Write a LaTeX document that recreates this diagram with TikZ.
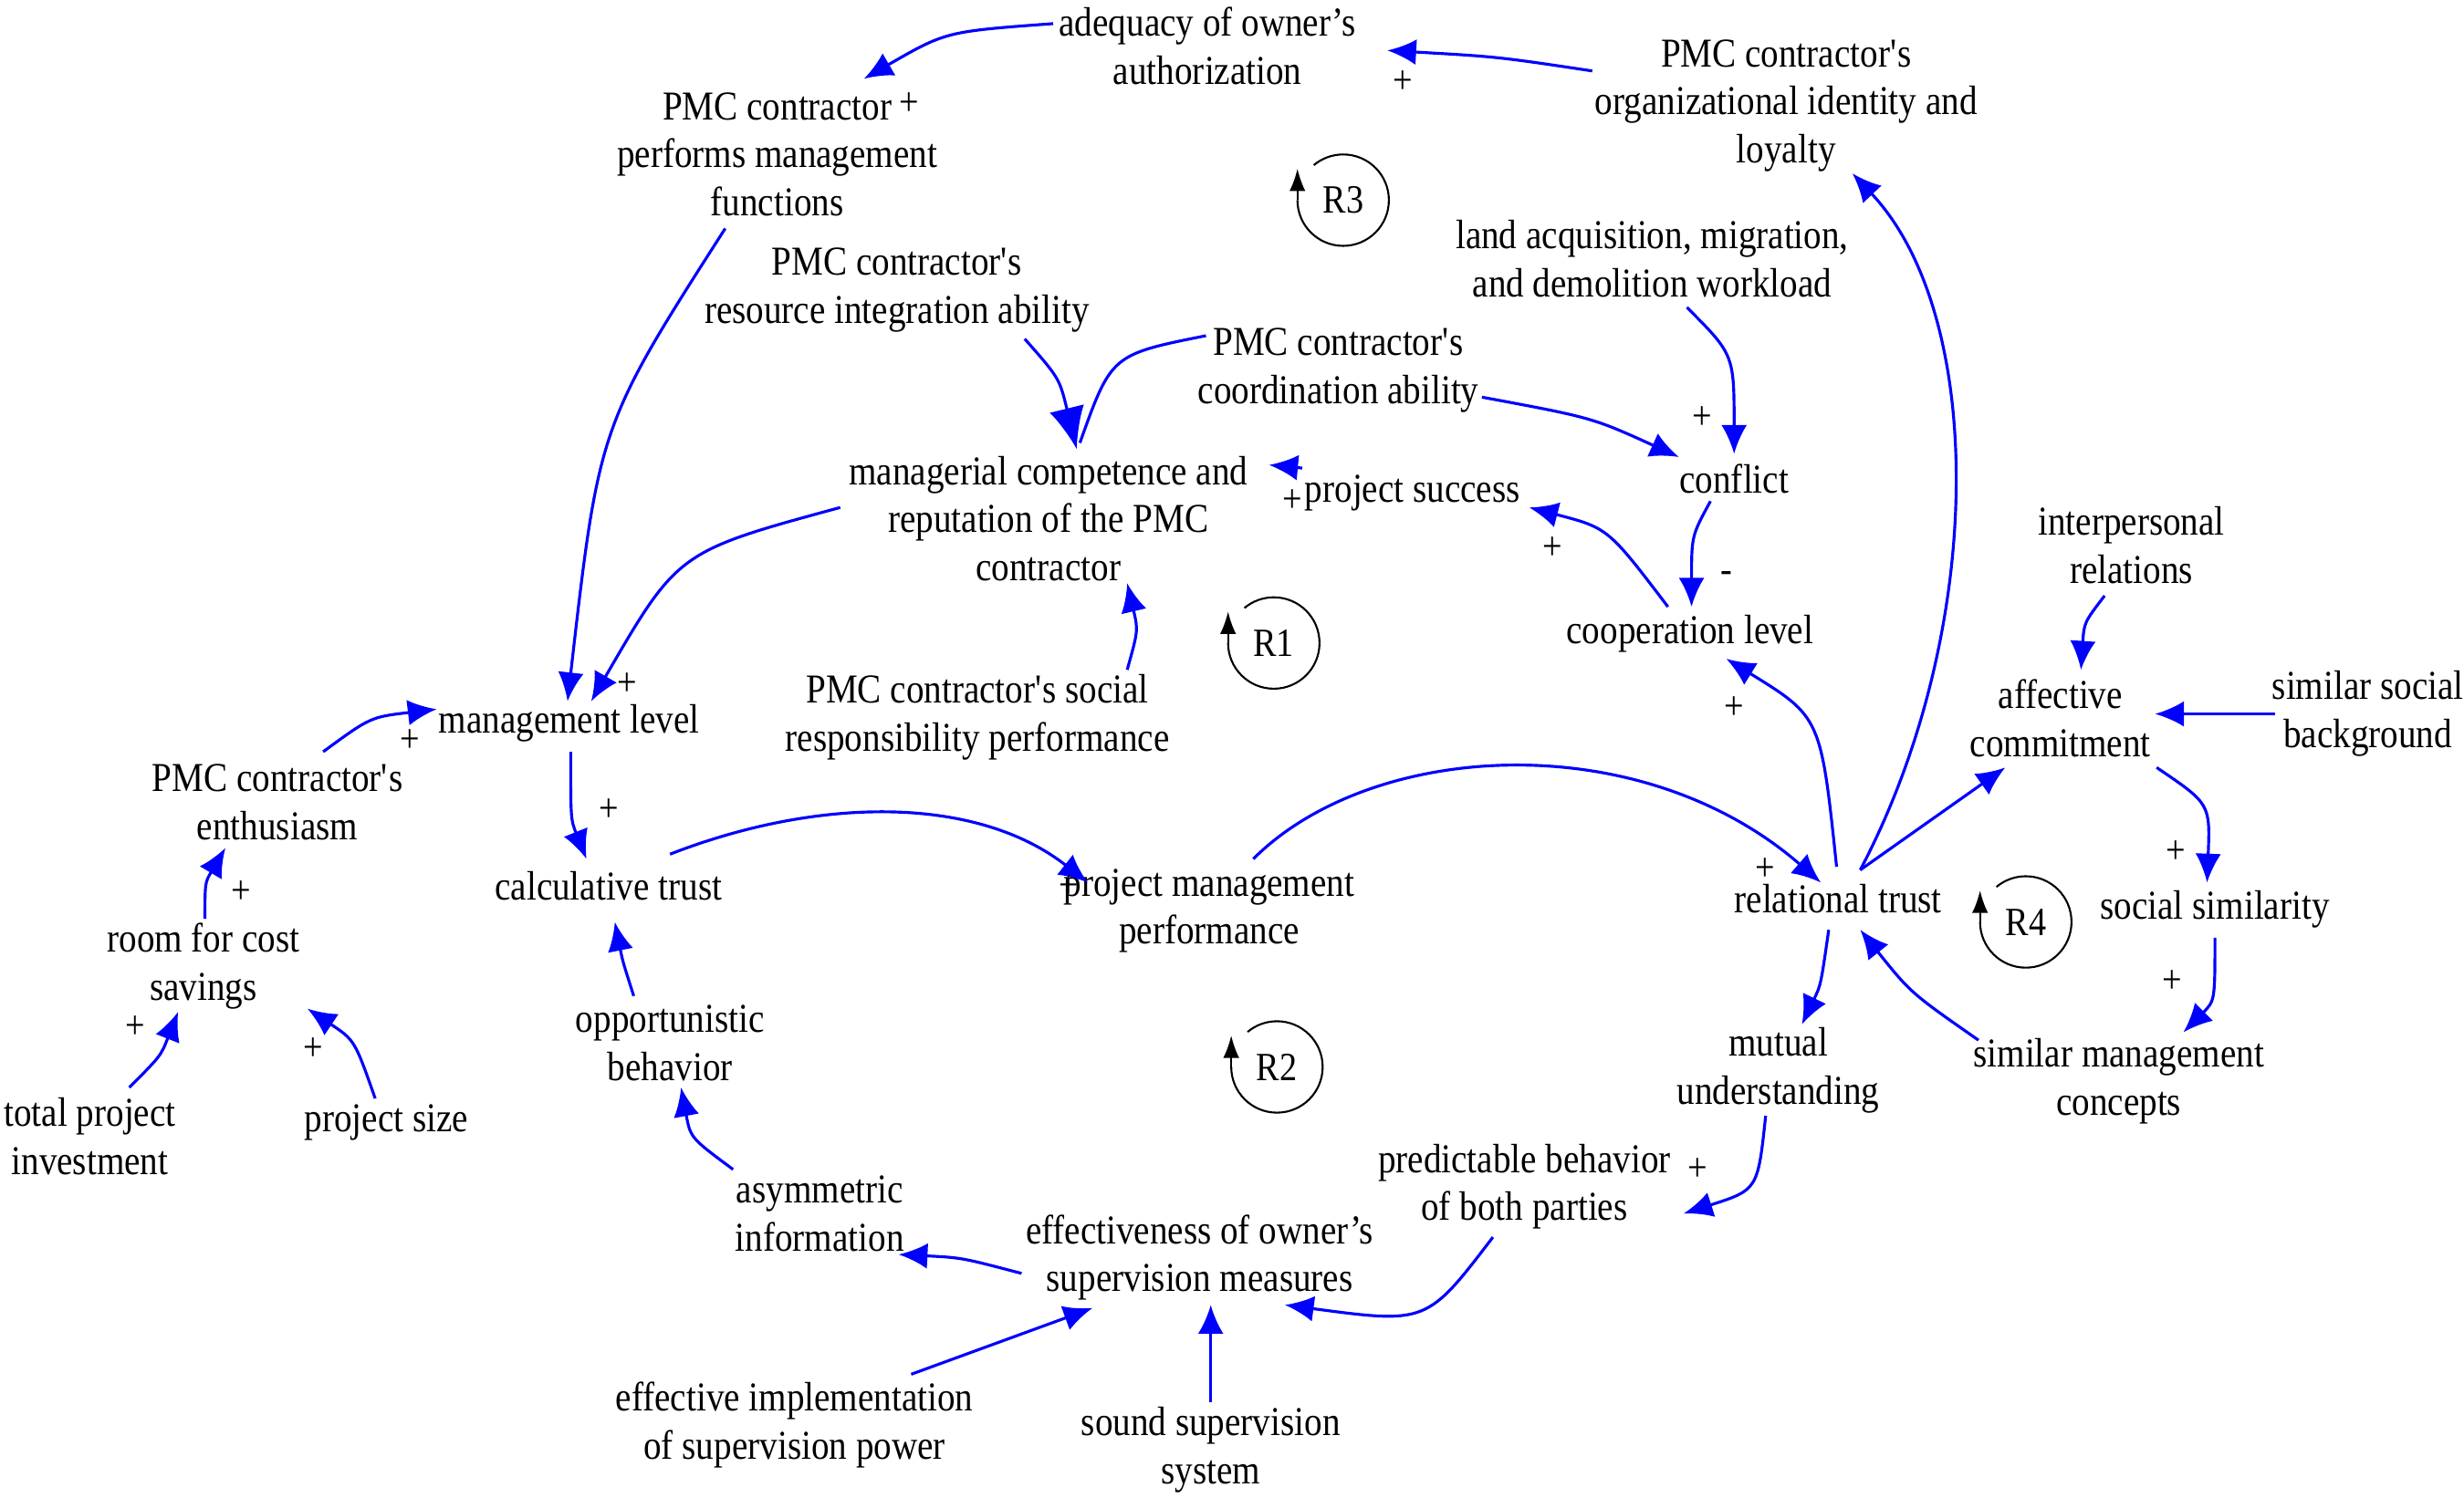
\documentclass[tikz,border=0pt]{standalone}
\usepackage{fontspec}
\setmainfont{Liberation Serif}[FakeStretch=0.87]
\usetikzlibrary{arrows.meta,calc}
\newcommand{\aq}{\textquotesingle}
\begin{document}
\begin{tikzpicture}[x=0.01727cm,y=-0.01727cm,
  v/.style={align=center,inner sep=1pt,font=\fontsize{12.8}{15}\selectfont},
  e/.style={draw=blue,line width=0.9pt,-{Latex[length=9pt,width=8pt]}},
  eb/.style={draw=blue,line width=0.9pt,-{Latex[length=13pt,width=11pt]}},
  s/.style={font=\fontsize{12.5}{14.9}\selectfont,inner sep=0pt},
  loopc/.style={draw=black,line width=0.6pt}]
\useasboundingbox (0,0) rectangle (1563,950);
\node[v] (adq) at (766,29) {adequacy of owner’s\\authorization};
\node[v] (org) at (1133,67) {PMC contractor\aq s\\organizational identity and\\loyalty};
\node[v] (perf) at (493,98) {PMC contractor\\performs management\\functions};
\node[v] (land) at (1048,164) {land acquisition, migration,\\and demolition workload};
\node[v] (res) at (569,184) {PMC contractor\aq s\\resource integration ability};
\node[v] (coord) at (849,235) {PMC contractor\aq s\\coordination ability};
\node[v] (mgc) at (665,329) {managerial competence and\\reputation of the PMC\\contractor};
\node[v] (succ) at (896,313) {project success};
\node[v] (conf) at (1100,304) {conflict};
\node[v] (coop) at (1072,402) {cooperation level};
\node[v] (inter) at (1352,346) {interpersonal\\relations};
\node[v] (aff) at (1307,456) {affective\\commitment};
\node[v] (bg) at (1502,453) {similar social\\background};
\node[v] (soc) at (620,455) {PMC contractor\aq s social\\responsibility performance};
\node[v] (ml) at (361,459) {management level};
\node[v] (ent) at (176,509) {PMC contractor\aq s\\enthusiasm};
\node[v] (calc) at (386,562) {calculative trust};
\node[v] (pmp) at (767,578) {project management\\performance};
\node[v] (rel) at (1166,570) {relational trust};
\node[v] (sim) at (1405,577) {social similarity};
\node[v] (room) at (129,613) {room for cost\\savings};
\node[v] (opp) at (425,662) {opportunistic\\behavior};
\node[v] (mut) at (1128,679) {mutual\\understanding};
\node[v] (smc) at (1344,686) {similar management\\concepts};
\node[v] (tot) at (57,721) {total project\\investment};
\node[v] (size) at (245,712) {project size};
\node[v] (asym) at (520,770) {asymmetric\\information};
\node[v] (pred) at (967,753) {predictable behavior\\of both parties};
\node[v] (eff) at (761,798) {effectiveness of owner’s\\supervision measures};
\node[v] (imp) at (504,904) {effective implementation\\of supervision power};
\node[v] (sound) at (768,920) {sound supervision\\system};
% edges
\draw[e] ($(adq)+(-98,-14)$) .. controls (600,20) .. ($(perf)+(55,-48)$);
\draw[e] ($(org)+(-123,-22)$) .. controls (950,36) .. ($(adq)+(114,3)$);
\draw[e] ($(rel)+(14,-18)$) .. controls (1260,400) and (1260,200) .. ($(org)+(42,43)$);
\draw[e] ($(perf)+(-33,47)$) .. controls (380,270) .. ($(ml)+(-1,-14)$);
\draw[eb] ($(res)+(81,31)$) .. controls (672,240) .. ($(mgc)+(18,-44)$);
\draw[draw=blue,line width=0.9pt] ($(coord)+(-84,-22)$) .. controls (705,225) .. ($(mgc)+(20,-48)$);
\draw[e] ($(coord)+(91,17)$) .. controls (1010,265) .. ($(conf)+(-35,-14)$);
\draw[e] ($(land)+(22,31)$) .. controls (1100,225) .. ($(conf)+(0,-16)$);
\draw[e] ($(conf)+(-15,14)$) .. controls (1073,340) .. ($(coop)+(1,-17)$);
\draw[e] ($(coop)+(-14,-17)$) .. controls (1020,335) .. ($(succ)+(74,9)$);
\draw[e] ($(succ)+(-70,-16)$) -- ($(mgc)+(140,-34)$);
\draw[e] ($(mgc)+(-132,-7)$) .. controls (430,350) .. ($(ml)+(14,-14)$);
\draw[e] ($(soc)+(95,-30)$) .. controls (722,400) .. ($(mgc)+(50,41)$);
\draw[e] ($(ent)+(29,-32)$) .. controls (235,455) .. ($(ml)+(-84,-9)$);
\draw[e] ($(ml)+(1,18)$) .. controls (362,520) .. ($(calc)+(-14,-17)$);
\draw[e] ($(calc)+(39,-20)$) .. controls (520,505) and (620,505) .. ($(pmp)+(-77,-18)$);
\draw[e] ($(pmp)+(28,-33)$) .. controls (870,470) and (1040,460) .. ($(rel)+(-11,-10)$);
\draw[e] ($(rel)+(-1,-20)$) .. controls (1155,455) .. ($(coop)+(23,16)$);
\draw[e] ($(rel)+(14,-18)$) -- ($(aff)+(-35,31)$);
\draw[e] ($(inter)+(-17,32)$) .. controls (1322,395) .. ($(aff)+(13,-31)$);
\draw[e] ($(bg)+(-59,0)$) -- ($(aff)+(60,-3)$);
\draw[e] ($(aff)+(61,31)$) .. controls (1402,510) .. ($(sim)+(-5,-17)$);
\draw[e] ($(sim)+(0,18)$) .. controls (1405,635) .. ($(smc)+(41,-31)$);
\draw[e] ($(smc)+(-89,-26)$) .. controls (1212,630) .. ($(rel)+(14,20)$);
\draw[e] ($(rel)+(-6,20)$) .. controls (1155,625) .. ($(mut)+(15,-29)$);
\draw[e] ($(mut)+(-8,29)$) .. controls (1115,755) .. ($(pred)+(101,17)$);
\draw[e] ($(pred)+(-20,32)$) .. controls (905,840) .. ($(eff)+(54,30)$);
\draw[e] ($(sound)+(0,-30)$) -- ($(eff)+(7,30)$);
\draw[e] ($(imp)+(74,-32)$) -- ($(eff)+(-68,32)$);
\draw[e] ($(eff)+(-113,10)$) .. controls (610,798) .. ($(asym)+(50,26)$);
\draw[e] ($(asym)+(-55,-28)$) .. controls (438,722) .. ($(opp)+(7,28)$);
\draw[e] ($(opp)+(-23,-30)$) .. controls (395,610) .. ($(calc)+(4,23)$);
\draw[e] ($(room)+(1,-30)$) .. controls (130,560) .. ($(ent)+(-33,29)$);
\draw[e] ($(tot)+(25,-31)$) .. controls (102,670) .. ($(room)+(-16,29)$);
\draw[e] ($(size)+(-7,-15)$) .. controls (225,660) .. ($(room)+(66,27)$);
% polarity labels
\node[s] at (577,66) {+};
\node[s] at (890,52) {+};
\node[s] at (1080,265) {+};
\node[s] at (1095,366) {-};
\node[s] at (985,348) {+};
\node[s] at (820,318) {+};
\node[s] at (398,434) {+};
\node[s] at (260,470) {+};
\node[s] at (386,514) {+};
\node[s] at (678,563) {+};
\node[s] at (1120,552) {+};
\node[s] at (1100,449) {+};
\node[s] at (1380,541) {+};
\node[s] at (1378,623) {+};
\node[s] at (1077,742) {+};
\node[s] at (153,566) {+};
\node[s] at (86,652) {+};
\node[s] at (199,666) {+};
% loop symbols
\foreach \n/\cx/\cy in {R3/852/127,R1/808/408,R4/1285/585,R2/810/677}{
  \node[s] at (\cx,\cy) {\n};
  \draw[loopc] (\cx-29,\cy) arc[start angle=180,end angle=-130,radius=29];
  \draw[loopc,-{Latex[length=7pt,width=5pt]}] (\cx-29,\cy) -- (\cx-29,\cy-20);
}
\end{tikzpicture}
\end{document}
